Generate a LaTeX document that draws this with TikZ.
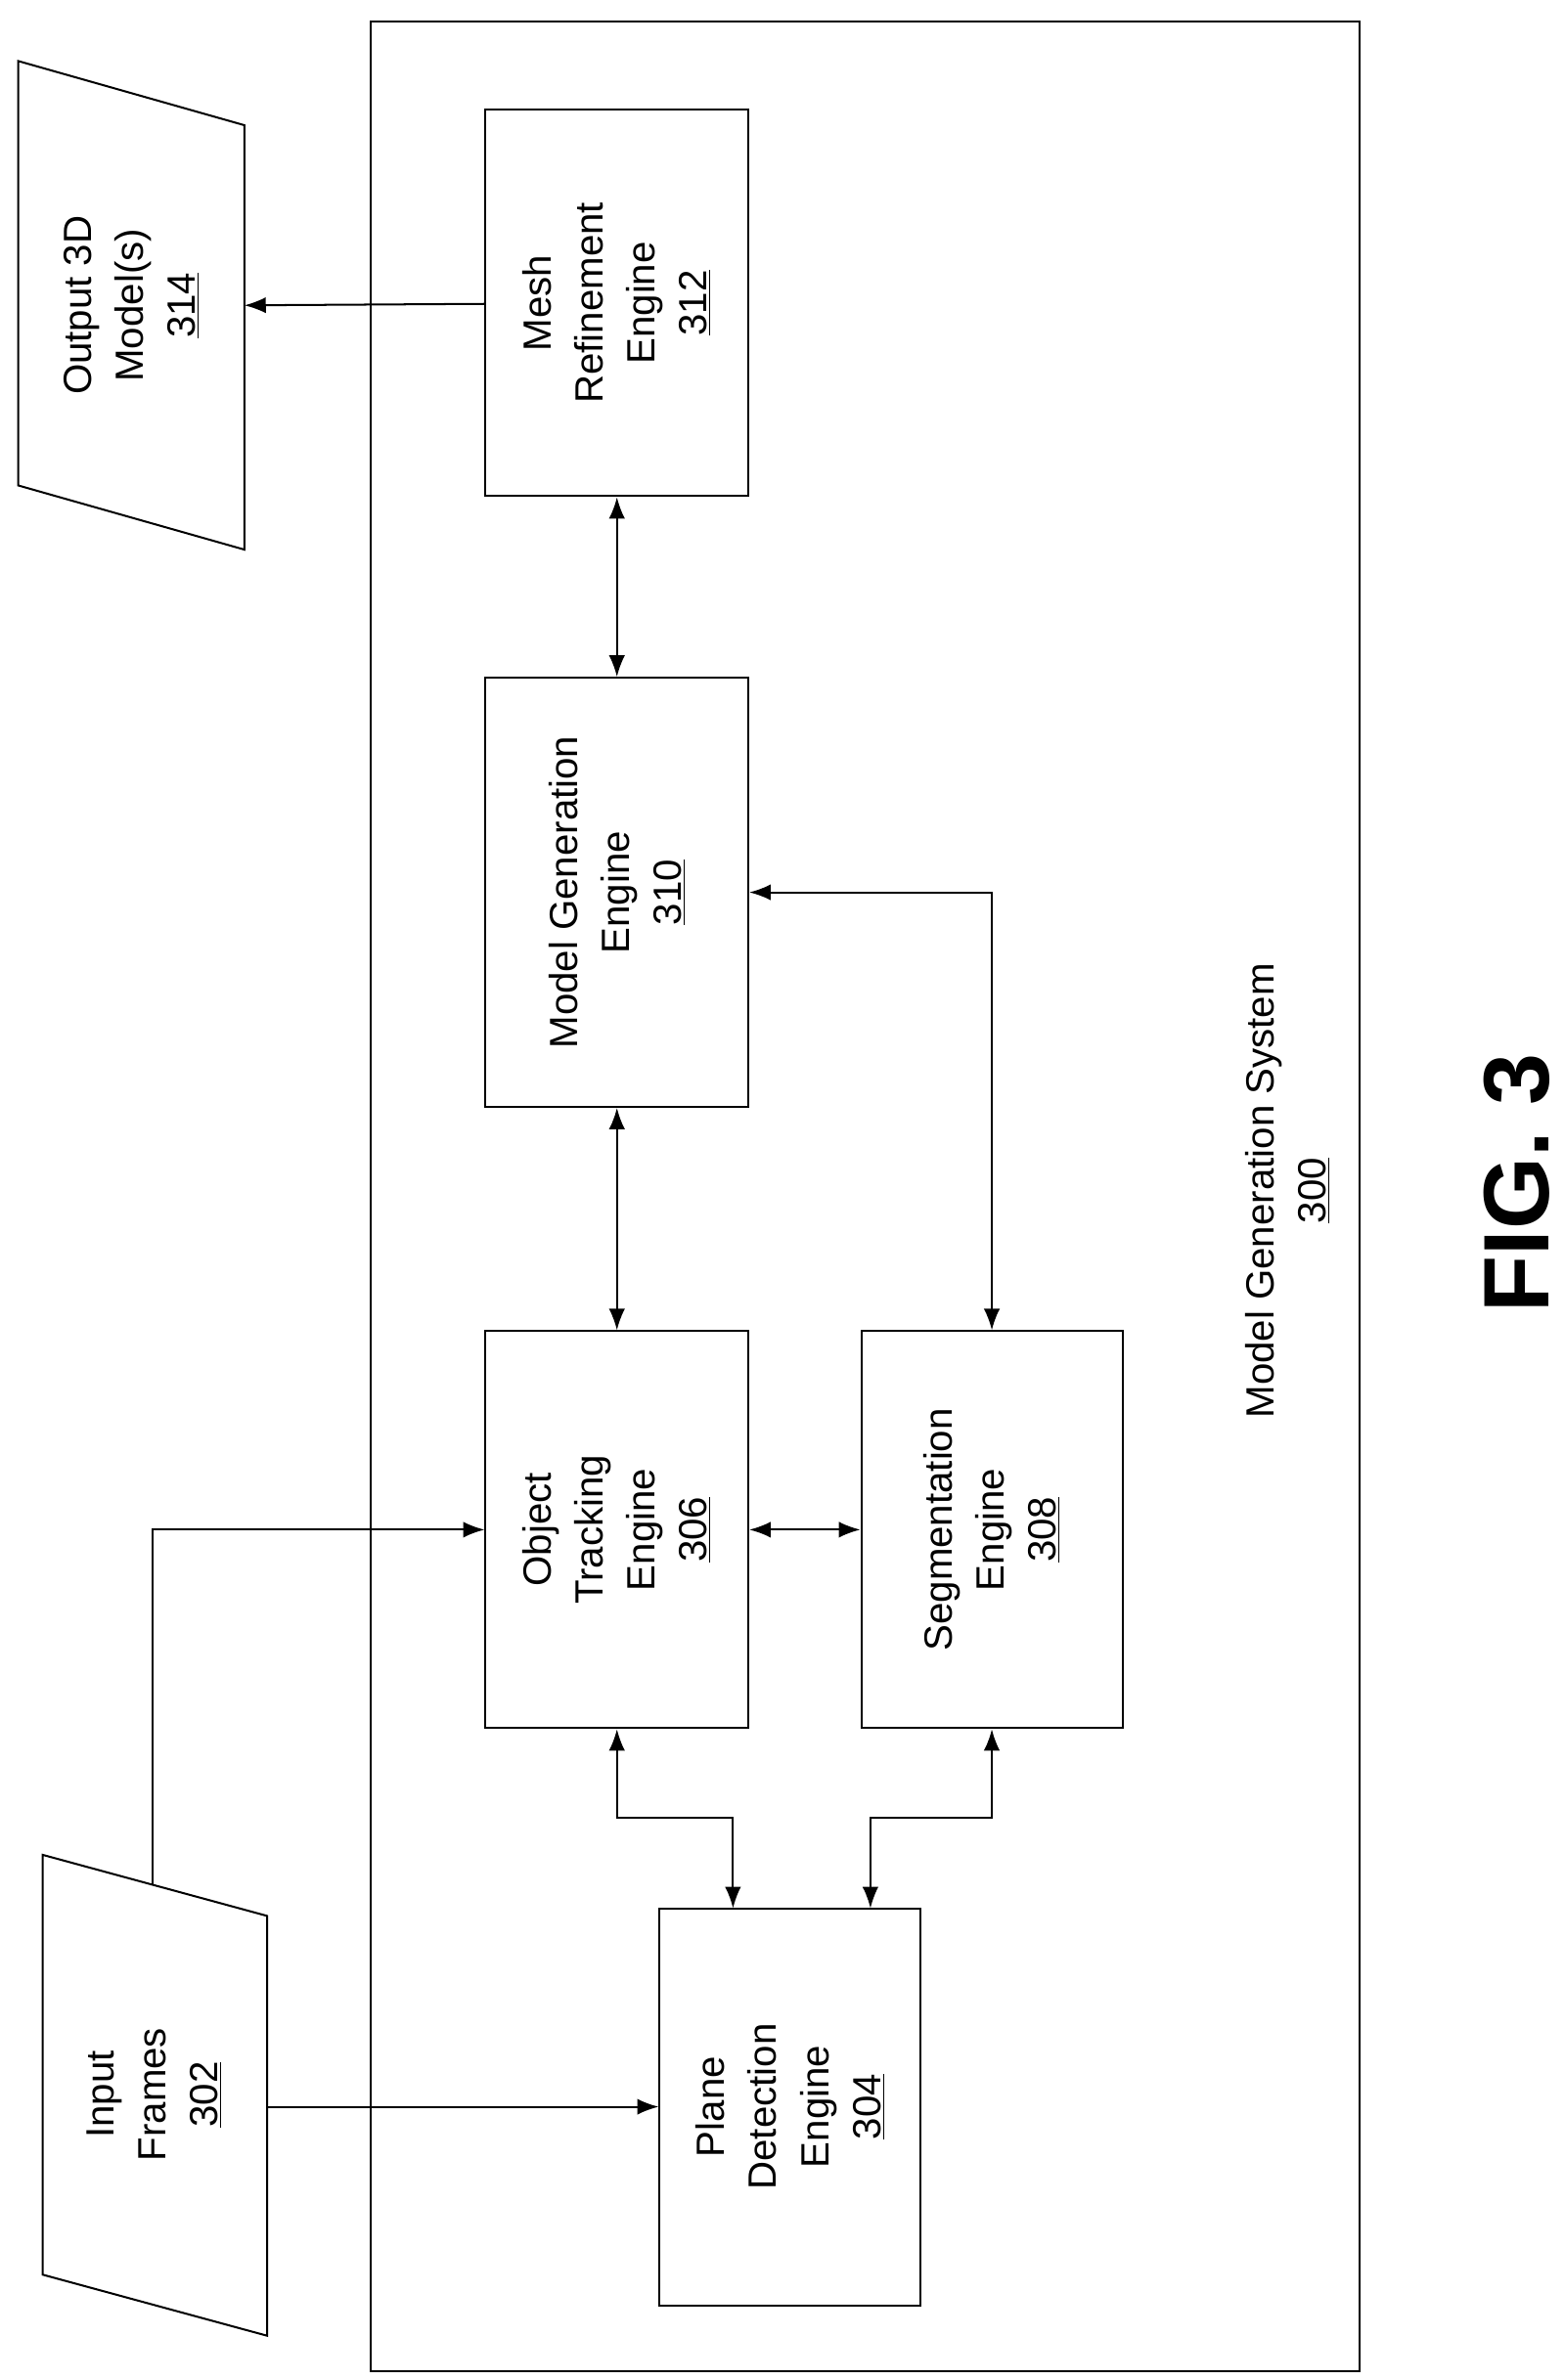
\documentclass[tikz,border=0pt]{standalone}
\usepackage{fontspec}
\setmainfont{Liberation Sans}
\usetikzlibrary{arrows.meta}
\tikzset{block/.style={draw,line width=1.1pt,rotate=90,align=center,font=\fontsize{22}{29}\selectfont}}
\tikzset{io/.style={draw,line width=1.1pt}}
\tikzset{txt/.style={rotate=90,align=center,font=\fontsize{22}{29}\selectfont}}
\tikzset{>={Latex[length=12pt,width=9pt]}}

\begin{document}
\begin{tikzpicture}[x=0.03cm,y=-0.03cm,line width=1.1pt]
    \useasboundingbox (0,0) rectangle (1024,1559);
    % system frame
    \draw [io] (243,14) rectangle (890,1553);
    \node (sys) [txt] at (843,780) {Model Generation System\\\underline{300}};
    \node (fig) [rotate=90,inner sep=0pt,font=\fontsize{52}{60}\selectfont\bfseries] at (993,775) {FIG. 3};

    % engines
    \node (Mesh) [block,minimum width=7.59cm,minimum height=5.16cm] at (404,198.5) {Mesh\\Refinement\\Engine\\\underline{312}};
    \node (Model) [block,minimum width=8.43cm,minimum height=5.16cm] at (404,584.5) {Model Generation\\Engine\\\underline{310}};
    \node (Obj) [block,minimum width=7.8cm,minimum height=5.16cm] at (404,1002) {Object\\Tracking\\Engine\\\underline{306}};
    \node (Seg) [block,minimum width=7.8cm,minimum height=5.13cm] at (649.5,1002) {Segmentation\\Engine\\\underline{308}};
    \node (Plane) [block,minimum width=7.8cm,minimum height=5.13cm] at (517.5,1380) {Plane\\Detection\\Engine\\\underline{304}};

    % inputs and outputs
    \draw [io] (12,40) -- (160,82) -- (160,360) -- (12,318) -- cycle;
    \node (Out) [txt] at (86,200) {Output 3D\\Model(s)\\\underline{314}};
    \coordinate (OutR) at (160,200);
    \draw [io] (28,1215) -- (175,1255) -- (175,1530) -- (28,1490) -- cycle;
    \node (In) [txt] at (101,1372) {Input\\Frames\\\underline{302}};
    \coordinate (InT) at (100,1235);
    \coordinate (InR) at (175,1380);

    \coordinate (P1) at (480,1250);
    \coordinate (P2) at (570,1250);

    \draw [->] (Mesh) -- (OutR);
    \draw [<->] (Mesh.west) -- (Model.east);
    \draw [<->] (Model.west) -- (Obj.east);
    \draw [<->] (Model.south) -| (Seg.east);
    \draw [<->] (Obj) -- (Seg);
    \draw [->] (InT) |- (Obj.north);
    \draw [->] (InR) -- (Plane.north);
    \draw [<->] (Obj.west) -- ++(0,58) -| (P1);
    \draw [<->] (Seg.west) -- ++(0,58) -| (P2);
\end{tikzpicture}
\end{document}
